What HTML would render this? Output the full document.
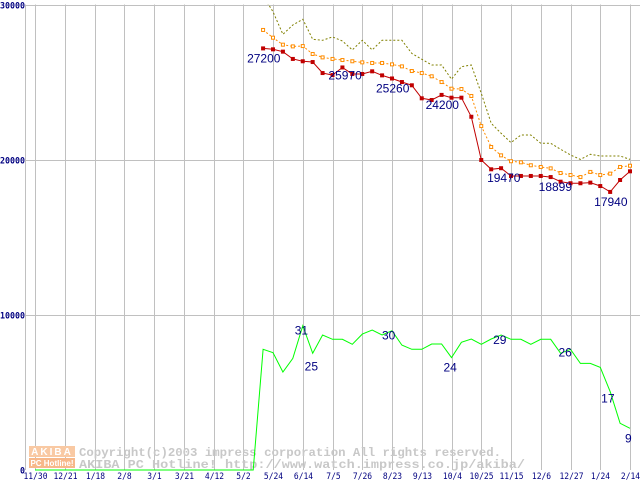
<!DOCTYPE html>
<html><head><meta charset="utf-8"><style>
html,body{margin:0;padding:0;background:#fff;}
svg{display:block;}
</style></head><body>
<svg id="chart" width="640" height="480" viewBox="0 0 640 480" xmlns="http://www.w3.org/2000/svg" font-family="Liberation Sans, DejaVu Sans, sans-serif">
<g id="grid"></g>
<g id="wm">
  <rect x="29" y="446" width="46" height="11" fill="#f9c9a3"/>
  <rect x="29" y="458" width="46" height="10" fill="#f7b88a"/>
  <text x="52" y="455" font-size="10" font-weight="bold" fill="#fff" text-anchor="middle" letter-spacing="2">AKIBA</text>
  <text x="52" y="466" font-size="8" font-weight="bold" fill="#fff" text-anchor="middle">PC Hotline!</text>
  <text x="79" y="456" font-size="12" font-family="Liberation Mono, monospace" fill="#c8c8c8" font-weight="bold" textLength="422" lengthAdjust="spacingAndGlyphs">Copyright(c)2003 impress corporation All rights reserved.</text>
  <text x="79" y="468" font-size="12" font-family="Liberation Mono, monospace" fill="#c8c8c8" font-weight="bold" textLength="446" lengthAdjust="spacingAndGlyphs">AKIBA PC Hotline!  http://www.watch.impress.co.jp/akiba/</text>
</g>
<g id="series"></g>
<g id="labels"></g>
</svg>
<script>
const xLabels=["11/30","12/21","1/18","2/8","3/1","3/21","4/12","5/2","5/24","6/14","7/5","7/26","8/23","9/13","10/4","10/25","11/15","12/6","12/27","1/24","2/14"];
const yTicks=[0,10000,20000,30000];
const startWeek=23;
const minPrice=[27200,27140,26990,26520,26370,26320,25610,25480,25970,25550,25550,25720,25460,25260,25030,24820,23980,23870,24200,24020,24020,22790,20000,19400,19470,18970,18970,18970,18970,18899,18600,18500,18500,18540,18320,17940,18710,19270];
const avgPrice=[28390,27890,27440,27330,27350,26840,26620,26520,26450,26370,26300,26260,26260,26170,26040,25740,25610,25400,25030,24600,24580,24130,22190,20840,20300,19920,19850,19660,19550,19460,19160,19030,18900,19230,19030,19120,19550,19630];
const maxPrice=[30600,29570,28110,28710,29080,27790,27720,27940,27680,27100,27720,27100,27720,27720,27720,26880,26500,26130,26130,25210,26020,26130,24300,22370,21720,21120,21610,21610,21080,21080,20690,20320,20040,20370,20260,20260,20260,20040];
const shopCount=[0,0,0,0,0,0,0,0,0,0,0,0,0,0,0,0,0,0,0,0,0,0,0,7790,7570,6320,7200,9310,7530,8710,8430,8430,8110,8770,9030,8710,8990,8060,7790,7790,8130,8130,7250,8240,8450,8110,8450,8710,8430,8430,8110,8430,8430,7530,7790,6880,6880,6620,5050,3010,2690];
const priceLabels=[[23,"27200",-16,14],[31,"25970",-14,12],[36,"25260",-16,14],[41,"24200",-16,14],[47,"19470",-14,14],[52,"18899",-12,14],[58,"17940",-16,14]];
const countLabels=[[27,"31",-8,9],[28,"25",-8,17],[36,"30",-10,9],[42,"24",-8,14],[47,"29",-8,9],[54,"26",-12,7],[58,"17",-9,11],[60,"9",-5,14]];

const NS="http://www.w3.org/2000/svg";
const xW=k=>35+k*29.75/3;
const yV=v=>470-v*15.5/1000;
function mk(tag,attrs,parent){const e=document.createElementNS(NS,tag);for(const a in attrs)e.setAttribute(a,attrs[a]);parent.appendChild(e);return e;}
const grid=document.getElementById('grid');
mk('line',{x1:25.5,y1:4.5,x2:25.5,y2:470,stroke:'#c0c0c0'},grid);
xLabels.forEach((l,i)=>{
  const x=Math.round(xW(i*3))+0.5;
  const g=mk('line',{x1:x,y1:4.5,x2:x,y2:470,stroke:'#c0c0c0'},grid);
  
  
  const t=mk('text',{x:x,y:479,'font-size':9,fill:'#000080','text-anchor':'middle','font-family':'DejaVu Sans Mono, monospace',textLength:l.length*4.8,lengthAdjust:'spacingAndGlyphs'},grid);
  t.textContent=l;
  
  
});
yTicks.forEach(v=>{
  const y=Math.round(yV(v))+0.5;
  if(v>0){const g=mk('line',{x1:25.5,y1:y,x2:640,y2:y,stroke:'#c0c0c0'},grid);
  
  }
  const s=String(v);
  const t=mk('text',{x:25,y:y+3,'font-size':9,'font-weight':'bold',fill:'#000080','text-anchor':'end','font-family':'DejaVu Sans Mono, monospace',textLength:s.length*5,lengthAdjust:'spacingAndGlyphs'},grid);
  t.textContent=s;
  
  
});
const S=document.getElementById('series');
function pts(arr,off){return arr.map((v,i)=>xW(i+off).toFixed(1)+','+yV(v).toFixed(1)).join(' ');}
const cp=mk('clipPath',{id:'clip'},S);mk('rect',{x:0,y:4,width:640,height:470},cp);
const gMax=mk('polyline',{points:pts(maxPrice,startWeek),fill:'none',stroke:'#808000','stroke-width':1,'stroke-dasharray':'2,2','clip-path':'url(#clip)'},S);


const gAvg=mk('polyline',{points:pts(avgPrice,startWeek),fill:'none',stroke:'#ff8c00','stroke-width':1,'stroke-dasharray':'2,2'},S);


avgPrice.forEach((v,i)=>{const r=mk('rect',{x:xW(i+startWeek)-1.5,y:yV(v)-1.5,width:3,height:3,fill:'#fff',stroke:'#ff8c00','stroke-width':1},S);

});
const gMin=mk('polyline',{points:pts(minPrice,startWeek),fill:'none',stroke:'#c00000','stroke-width':1},S);


minPrice.forEach((v,i)=>{const r=mk('rect',{x:xW(i+startWeek)-2,y:yV(v)-2,width:4,height:4,fill:'#c00000'},S);

});
const gCnt=mk('polyline',{points:pts(shopCount,0),fill:'none',stroke:'#00ff00','stroke-width':1},S);


const L=document.getElementById('labels');
priceLabels.forEach(([k,txt,dx,dy])=>{const v=minPrice[k-startWeek];
const t=mk('text',{x:xW(k)+dx,y:yV(v)+dy,'font-size':12,fill:'#000080'},L);t.textContent=txt;

});
countLabels.forEach(([k,txt,dx,dy])=>{const v=shopCount[k];
const t=mk('text',{x:xW(k)+dx,y:yV(v)+dy,'font-size':12,fill:'#000080'},L);t.textContent=txt;

});
</script>
</body></html>
